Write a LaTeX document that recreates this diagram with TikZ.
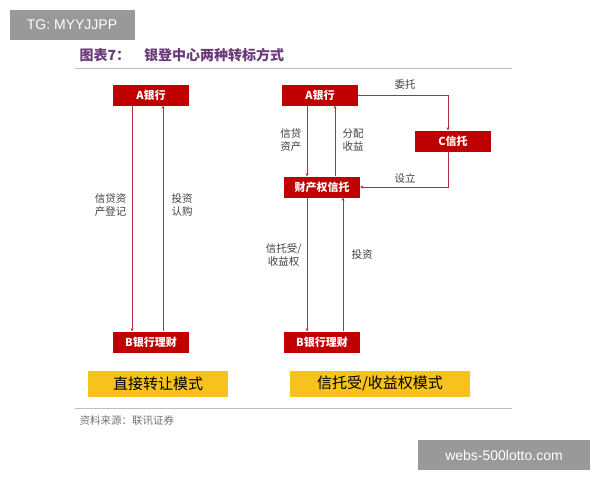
\documentclass[tikz,border=0pt]{standalone}
\usepackage{fontspec}
\setmainfont{Liberation Serif}
\newfontfamily\cjk{Noto Sans CJK SC}
\newfontfamily\wmf{Liberation Sans}
\usetikzlibrary{arrows.meta}
\definecolor{bred}{HTML}{C00000}
\definecolor{lred}{HTML}{B03040}
\definecolor{ttl}{HTML}{6B3A7A}
\definecolor{ylw}{HTML}{F7C21B}
\begin{document}
\begin{tikzpicture}[x=1pt,y=-1pt,
  rbox/.style={fill=bred,text=white,font=\cjk\fontsize{11}{12}\selectfont\bfseries,minimum width=76pt,minimum height=21pt,inner sep=0pt},
  ybox/.style={fill=ylw,text=black,font=\cjk\fontsize{15}{18}\selectfont,minimum height=26pt,inner sep=0pt},
  arr/.style={draw=lred,line width=0.6pt,-{Stealth[length=3pt,width=3pt]}},
  lbl/.style={font=\cjk\fontsize{10.5}{13}\selectfont,text=black!75,align=center},
  wm/.style={fill=black!40,text=white,font=\wmf\fontsize{14}{16}\selectfont,inner sep=0pt}]
\useasboundingbox (0,0) rectangle (600,480);
\fill[white] (0,0) rectangle (600,480);
\node[wm,minimum width=125pt,minimum height=30pt] (w1) at (72,25) {TG: MYYJJPP};
\node[wm,minimum width=172pt,minimum height=30pt] (w2) at (504,455) {webs-500lotto.com};
\node[anchor=west,text=ttl,font=\cjk\fontsize{14}{16}\selectfont\bfseries] (t) at (76,55) {图表7：\quad 银登中心两种转标方式};
\draw[black!25,line width=1pt] (75,68) -- (512,68);
% left
\node[rbox] (la) at (151,95) {A银行};
\node[rbox] (lb) at (151,342) {B银行理财};
\draw[arr] (la.south -| 132,0) -- (lb.north -| 132,0);
\draw[arr] (lb.north -| 163,0) -- (la.south -| 163,0);
\node[lbl,anchor=east] (l1) at (130,205) {信贷资\\产登记};
\node[lbl,anchor=west] (l2) at (168,205) {投资\\认购};
% right
\node[rbox] (ra) at (320,95) {A银行};
\node[rbox] (rc) at (453,141) {C信托};
\node[rbox] (rt) at (322,187) {财产权信托};
\node[rbox] (rb) at (322,342) {B银行理财};
\draw[arr] (ra.east) -- (448,95) -- (rc.north -| 448,0);
\draw[arr] (rc.south -| 448,0) -- (448,187) -- (rt.east);
\node[lbl] (wt) at (405,85) {委托};
\node[lbl] (sl) at (405,178) {设立};
\draw[arr] (ra.south -| 307,0) -- (rt.north -| 307,0);
\draw[arr] (rt.north -| 335,0) -- (ra.south -| 335,0);
\node[lbl,anchor=east] (x1) at (305,140) {信贷\\资产};
\node[lbl,anchor=west] (x2) at (339,140) {分配\\收益};
\draw[arr] (rt.south -| 307,0) -- (rb.north -| 307,0);
\draw[arr] (rb.north -| 343,0) -- (rt.south -| 343,0);
\node[lbl,anchor=east] (x3) at (305,255) {信托受/\\收益权};
\node[lbl,anchor=west] (x4) at (348,255) {投资};
% bottom
\node[ybox,minimum width=140pt] (y1) at (158,384) {直接转让模式};
\node[ybox,minimum width=180pt] (y2) at (380,384) {信托受/收益权模式};
\draw[black!25,line width=1pt] (75,408) -- (512,408);
\node[anchor=west,text=black!55,font=\cjk\fontsize{10.5}{13}\selectfont] (src) at (76,421) {资料来源：联讯证券};
\end{tikzpicture}
\end{document}
